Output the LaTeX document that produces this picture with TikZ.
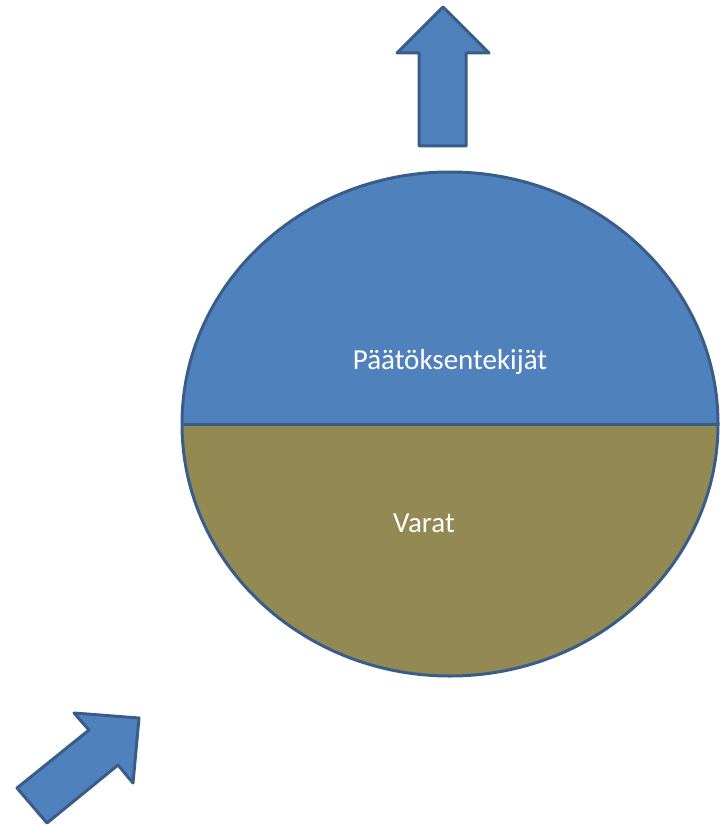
\documentclass[tikz,border=0pt]{standalone}
\usepackage{fontspec}
\setmainfont{Carlito}
\definecolor{bluefill}{HTML}{4F81BD}
\definecolor{blueline}{HTML}{385D8A}
\definecolor{olivefill}{HTML}{938953}
\begin{document}
\begin{tikzpicture}[x=1pt,y=-1pt,
  shapeline/.style={draw=blueline,line width=3pt,line join=round},
  label/.style={text=white,font=\fontsize{29}{34}\selectfont,inner sep=0pt}]
\useasboundingbox (0,0) rectangle (727,826);
% upper half
\fill[bluefill] (182,424) arc[start angle=180,end angle=360,x radius=268,y radius=252] -- cycle;
% lower half
\fill[olivefill] (182,424) arc[start angle=180,end angle=0,x radius=268,y radius=252] -- cycle;
\draw[shapeline] (450,424) ellipse[x radius=268,y radius=252];
\draw[shapeline] (182,424) -- (718,424);
\node[label] (top) at (450,362) {Päätöksentekijät};
\node[label] (bottom) at (424,523) {Varat};
% up arrow
\filldraw[fill=bluefill,shapeline] (443,7) -- (489,53) -- (466,53) -- (466,146) -- (419,146) -- (419,53) -- (397,53) -- cycle;
% diagonal arrow
\filldraw[fill=bluefill,shapeline] (139,718) -- (133,783) -- (118,765) -- (47,823) -- (17,788) -- (89,730) -- (74,713) -- cycle;
\end{tikzpicture}
\end{document}
